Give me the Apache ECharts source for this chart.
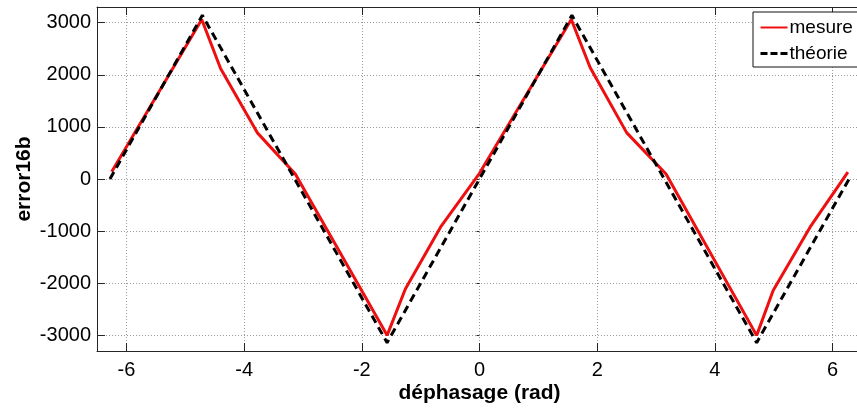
<!DOCTYPE html>
<html>
<head>
<meta charset="utf-8">
<script src="https://cdn.jsdelivr.net/npm/echarts@6/dist/echarts.min.js"></script>
<style>
html,body{margin:0;padding:0;background:#fff;}
#c{width:857px;height:409px;}
</style>
</head>
<body>
<div id="c"></div>
<script>
// x ticks and y ticks
const xTicks = [-6, -4, -2, 0, 2, 4, 6];
const yTicks = [-3000, -2000, -1000, 0, 1000, 2000, 3000];

// "mesure" (measured) curve vertices
const mesureX = [-6.25, -4.72, -4.40, -3.77, -3.13, -1.57, -1.26, -0.66, 0.0, 1.56, 1.88, 2.50, 3.17, 4.71, 4.99, 5.62, 6.26];
const mesureY = [140, 3060, 2120, 880, 95, -3000, -2110, -920, 110, 3060, 2140, 890, 95, -3000, -2140, -920, 130];

// "théorie" (theory) curve vertices
const theorieX = [-6.28, -4.71, -1.57, 1.57, 4.71, 6.28];
const theorieY = [0, 3140, -3140, 3140, -3140, 0];

const FONT = '"Liberation Sans", Arial, sans-serif';
const toPairs = (xs, ys) => xs.map((x, i) => [x, ys[i]]);

// x axis runs from -6.5; the right border of the original figure is cropped off
const X_MIN = -6.5, X_MAX = 6.415;

const chart = echarts.init(document.getElementById('c'), null, {renderer: 'canvas'});
const axisLineStyle = {color: '#262626', width: 1};
const gridLine = {show: true, lineStyle: {color: '#9a9a9a', type: [1, 2], width: 1}};
const plain = v => String(v);

chart.setOption({
  backgroundColor: '#ffffff',
  animation: false,
  grid: {left: 97, right: 0, top: 7, bottom: 56, containLabel: false},
  legend: {
    orient: 'vertical',
    left: 753, top: 12,
    padding: [6, 6, 4, 6],
    itemWidth: 27, itemHeight: 14, itemGap: 7,
    backgroundColor: '#fff',
    borderColor: '#111', borderWidth: 1, borderRadius: 0,
    itemStyle: {opacity: 0},
    textStyle: {fontFamily: FONT, fontSize: 19, color: '#000', lineHeight: 19, padding: [0, 0, 0, -3]},
    data: [
      {name: 'mesure'},
      {name: 'théorie', lineStyle: {type: [7, 3], width: 3}}
    ]
  },
  xAxis: [{
    type: 'value', min: X_MIN, max: X_MAX,
    position: 'bottom',
    name: 'déphasage (rad)', nameLocation: 'middle', nameGap: 32, nameMoveOverlap: false,
    nameTextStyle: {fontFamily: FONT, fontSize: 21, fontWeight: 'bold', color: '#000', padding: [0, 0, 0, 5]},
    axisLine: {show: true, onZero: false, lineStyle: axisLineStyle},
    axisTick: {show: true, inside: true, length: 8, customValues: xTicks, lineStyle: axisLineStyle},
    axisLabel: {show: true, customValues: xTicks, margin: 9, fontFamily: FONT, fontSize: 20, color: '#000', formatter: plain},
    splitLine: gridLine
  }, {
    type: 'value', min: X_MIN, max: X_MAX,
    position: 'top',
    axisLine: {show: true, onZero: false, lineStyle: axisLineStyle},
    axisTick: {show: true, inside: true, length: 8, customValues: xTicks, lineStyle: axisLineStyle},
    axisLabel: {show: false},
    splitLine: {show: false}
  }],
  yAxis: [{
    type: 'value', min: -3300, max: 3300,
    position: 'left',
    name: 'error16b', nameLocation: 'middle', nameGap: 62, nameRotate: 90, nameMoveOverlap: false,
    nameTextStyle: {fontFamily: FONT, fontSize: 21, fontWeight: 'bold', color: '#000'},
    axisLine: {show: true, onZero: false, lineStyle: axisLineStyle},
    axisTick: {show: true, inside: true, length: 8, customValues: yTicks, lineStyle: axisLineStyle},
    axisLabel: {show: true, customValues: yTicks, margin: 6, fontFamily: FONT, fontSize: 20, color: '#000', formatter: plain},
    splitLine: gridLine
  }, {
    type: 'value', min: -3300, max: 3300,
    position: 'right',
    axisLine: {show: false},
    axisTick: {show: true, inside: true, length: 3, customValues: yTicks, lineStyle: axisLineStyle},
    axisLabel: {show: false},
    splitLine: {show: false}
  }],
  series: [{
    name: 'mesure', type: 'line',
    xAxisIndex: 0, yAxisIndex: 0,
    data: toPairs(mesureX, mesureY),
    symbol: 'none', showSymbol: false,
    lineStyle: {color: '#ee1010', width: 3, type: 'solid'},
    itemStyle: {color: '#ee1010'},
    z: 3
  }, {
    name: 'théorie', type: 'line',
    xAxisIndex: 0, yAxisIndex: 0,
    data: toPairs(theorieX, theorieY),
    symbol: 'none', showSymbol: false,
    lineStyle: {color: '#000', width: 3, type: [8, 5]},
    itemStyle: {color: '#000'},
    z: 4
  }]
});
</script>
</body>
</html>
